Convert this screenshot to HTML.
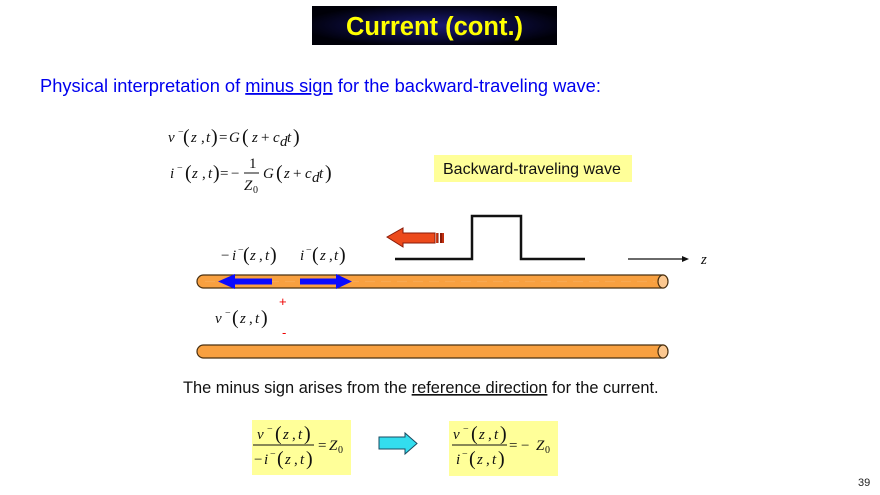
<!DOCTYPE html>
<html><head><meta charset="utf-8">
<style>
html,body{margin:0;padding:0;background:#fff;}
body{width:880px;height:495px;overflow:hidden;position:relative;}
svg{position:absolute;left:0;top:0;}
.s{font-family:"Liberation Sans",Arial,sans-serif;}
.m{font-family:"Liberation Serif","Times New Roman",serif;font-style:italic;font-size:15px;fill:#111;}
.u{font-family:"Liberation Serif","Times New Roman",serif;font-style:normal;fill:#111;}
.p{font-family:"Liberation Serif","Times New Roman",serif;font-style:normal;font-size:20px;fill:#111;}
</style></head>
<body>
<svg width="880" height="495" viewBox="0 0 880 495" xmlns="http://www.w3.org/2000/svg">
<defs>
<radialGradient id="tg" cx="50%" cy="50%" r="55%">
<stop offset="0" stop-color="#1c1c78"/>
<stop offset="0.6" stop-color="#0a0a35"/>
<stop offset="1" stop-color="#000008"/>
</radialGradient>
</defs>

<!-- Title -->
<rect x="312" y="6" width="245" height="39" fill="url(#tg)"/>
<text x="434.5" y="35" text-anchor="middle" class="s" font-size="25.5" font-weight="bold" fill="#ffff00">Current (cont.)</text>

<!-- Subtitle -->
<text x="40" y="92" class="s" font-size="18.3" fill="#0000ee">Physical interpretation of <tspan text-decoration="underline">minus sign</tspan> for the backward-traveling wave:</text>

<!-- Equation line 1 -->
<text x="168" y="142" class="m">v</text>
<text x="178" y="135" class="u" font-size="10">−</text>
<text x="183" y="143" class="p">(</text>
<text x="191" y="142" class="m">z</text>
<text x="201" y="142" class="u" font-size="15">,</text>
<text x="206" y="142" class="m">t</text>
<text x="211" y="143" class="p">)</text>
<text x="219" y="142" class="u" font-size="15">=</text>
<text x="229" y="142" class="m">G</text>
<text x="242" y="143" class="p">(</text>
<text x="252" y="142" class="m">z</text>
<text x="261" y="142" class="u" font-size="15">+</text>
<text x="273" y="142" class="m">c</text>
<text x="280" y="146" class="m" font-size="9">d</text>
<text x="287" y="142" class="m">t</text>
<text x="293" y="143" class="p">)</text>

<!-- Equation line 2 -->
<text x="170" y="178" class="m">i</text>
<text x="177" y="171" class="u" font-size="10">−</text>
<text x="185" y="179" class="p">(</text>
<text x="192" y="178" class="m">z</text>
<text x="202" y="178" class="u" font-size="15">,</text>
<text x="208" y="178" class="m">t</text>
<text x="213" y="179" class="p">)</text>
<text x="220" y="178" class="u" font-size="15">=</text>
<text x="231" y="178" class="u" font-size="15">−</text>
<text x="249" y="168" class="u" font-size="15">1</text>
<line x1="244" y1="173" x2="259" y2="173" stroke="#111" stroke-width="1"/>
<text x="244" y="190" class="m">Z</text>
<text x="253" y="193" class="u" font-size="10">0</text>
<text x="263" y="178" class="m">G</text>
<text x="276" y="179" class="p">(</text>
<text x="284" y="178" class="m">z</text>
<text x="293" y="178" class="u" font-size="15">+</text>
<text x="305" y="178" class="m">c</text>
<text x="312" y="182" class="m" font-size="9">d</text>
<text x="319" y="178" class="m">t</text>
<text x="325" y="179" class="p">)</text>

<!-- Backward-traveling wave label -->
<rect x="434" y="155" width="198" height="27" fill="#ffff99"/>
<text x="443" y="174" class="s" font-size="16" fill="#111">Backward-traveling wave</text>

<!-- Pulse -->
<polyline points="395,259 472,259 472,216 521,216 521,259 585,259" fill="none" stroke="#111" stroke-width="2.5"/>

<!-- z axis arrow -->
<line x1="628" y1="259" x2="684" y2="259" stroke="#111" stroke-width="1.2"/>
<polygon points="689,259 682,256 682,262" fill="#111"/>
<text x="701" y="264" class="m" font-size="12">z</text>

<!-- Red arrow -->
<polygon points="387,237 403,228 403,233 435,233 435,243 403,243 403,247" fill="#ec4a1c" stroke="#8a1a08" stroke-width="1"/>
<rect x="436" y="233" width="2.5" height="10" fill="#d8431a"/>
<rect x="437.5" y="233" width="1" height="10" fill="#8a1a08"/>
<rect x="440" y="233" width="2" height="10" fill="#8a1a08"/>
<rect x="442" y="233" width="2" height="10" fill="#c03010"/>

<!-- Top wire -->
<path d="M203.5,275 L663,275 L663,288 L203.5,288 A6.5,6.5 0 0 1 203.5,275 Z" fill="#f8a040" stroke="#4a3010" stroke-width="1.2"/>
<line x1="205" y1="281.5" x2="655" y2="281.5" stroke="#f9b060" stroke-width="1.2" stroke-dasharray="10,6" opacity="0.6"/>
<ellipse cx="663" cy="281.5" rx="5" ry="6.5" fill="#fcc890" stroke="#4a3010" stroke-width="1.2"/>

<!-- Bottom wire -->
<path d="M203.5,345 L663,345 L663,358 L203.5,358 A6.5,6.5 0 0 1 203.5,345 Z" fill="#f8a040" stroke="#4a3010" stroke-width="1.2"/>
<ellipse cx="663" cy="351.5" rx="5" ry="6.5" fill="#fcc890" stroke="#4a3010" stroke-width="1.2"/>

<!-- Blue arrows -->
<polygon points="218,281.5 235,274 235,278.5 272,278.5 272,284.5 235,284.5 235,289" fill="#0a0aff"/>
<polygon points="352,281.5 336,274 336,278.5 300,278.5 300,284.5 336,284.5 336,289" fill="#0a0aff"/>

<!-- Wire labels -->
<text x="221" y="260" class="u" font-size="15">−</text>
<text x="232" y="260" class="m">i</text>
<text x="238" y="253" class="u" font-size="10">−</text>
<text x="243" y="261" class="p">(</text>
<text x="250" y="260" class="m">z</text>
<text x="259" y="260" class="u" font-size="15">,</text>
<text x="265" y="260" class="m">t</text>
<text x="270" y="261" class="p">)</text>

<text x="300" y="260" class="m">i</text>
<text x="306" y="253" class="u" font-size="10">−</text>
<text x="312" y="261" class="p">(</text>
<text x="320" y="260" class="m">z</text>
<text x="329" y="260" class="u" font-size="15">,</text>
<text x="334" y="260" class="m">t</text>
<text x="339" y="261" class="p">)</text>

<text x="215" y="323" class="m">v</text>
<text x="225" y="316" class="u" font-size="10">−</text>
<text x="232" y="324" class="p">(</text>
<text x="240" y="323" class="m">z</text>
<text x="249" y="323" class="u" font-size="15">,</text>
<text x="255" y="323" class="m">t</text>
<text x="261" y="324" class="p">)</text>

<text x="279" y="306" class="s" font-size="13" fill="#ee0000">+</text>
<text x="282" y="337" class="s" font-size="13" fill="#ee0000">-</text>

<!-- Bottom sentence -->
<text x="183" y="393" class="s" font-size="16.4" fill="#111">The minus sign arises from the <tspan text-decoration="underline">reference direction</tspan> for the current.</text>

<!-- Left formula box -->
<rect x="252" y="420" width="99" height="55" fill="#ffff99"/>
<text x="257" y="439" class="m">v</text>
<text x="267" y="432" class="u" font-size="10">−</text>
<text x="275" y="440" class="p">(</text>
<text x="283" y="439" class="m">z</text>
<text x="292" y="439" class="u" font-size="15">,</text>
<text x="298" y="439" class="m">t</text>
<text x="304" y="440" class="p">)</text>
<line x1="253" y1="445" x2="314" y2="445" stroke="#111" stroke-width="1"/>
<text x="254" y="464" class="u" font-size="15">−</text>
<text x="264" y="464" class="m">i</text>
<text x="270" y="457" class="u" font-size="10">−</text>
<text x="277" y="465" class="p">(</text>
<text x="285" y="464" class="m">z</text>
<text x="294" y="464" class="u" font-size="15">,</text>
<text x="300" y="464" class="m">t</text>
<text x="306" y="465" class="p">)</text>
<text x="318" y="450" class="u" font-size="15">=</text>
<text x="329" y="450" class="m">Z</text>
<text x="338" y="453" class="u" font-size="10">0</text>

<!-- Cyan arrow -->
<polygon points="379,437 405,437 405,433 417,443.5 405,454 405,449 379,449" fill="#33ddee" stroke="#1a4a60" stroke-width="1"/>

<!-- Right formula box -->
<rect x="449" y="421" width="109" height="55" fill="#ffff99"/>
<text x="453" y="439" class="m">v</text>
<text x="463" y="432" class="u" font-size="10">−</text>
<text x="471" y="440" class="p">(</text>
<text x="479" y="439" class="m">z</text>
<text x="488" y="439" class="u" font-size="15">,</text>
<text x="494" y="439" class="m">t</text>
<text x="500" y="440" class="p">)</text>
<line x1="452" y1="445" x2="507" y2="445" stroke="#111" stroke-width="1"/>
<text x="456" y="464" class="m">i</text>
<text x="462" y="457" class="u" font-size="10">−</text>
<text x="469" y="465" class="p">(</text>
<text x="477" y="464" class="m">z</text>
<text x="486" y="464" class="u" font-size="15">,</text>
<text x="492" y="464" class="m">t</text>
<text x="498" y="465" class="p">)</text>
<text x="509" y="450" class="u" font-size="15">=</text>
<text x="521" y="450" class="u" font-size="15">−</text>
<text x="536" y="450" class="m">Z</text>
<text x="545" y="453" class="u" font-size="10">0</text>

<!-- Page number -->
<text x="858" y="486" class="s" font-size="11" fill="#222">39</text>
</svg>
</body></html>
